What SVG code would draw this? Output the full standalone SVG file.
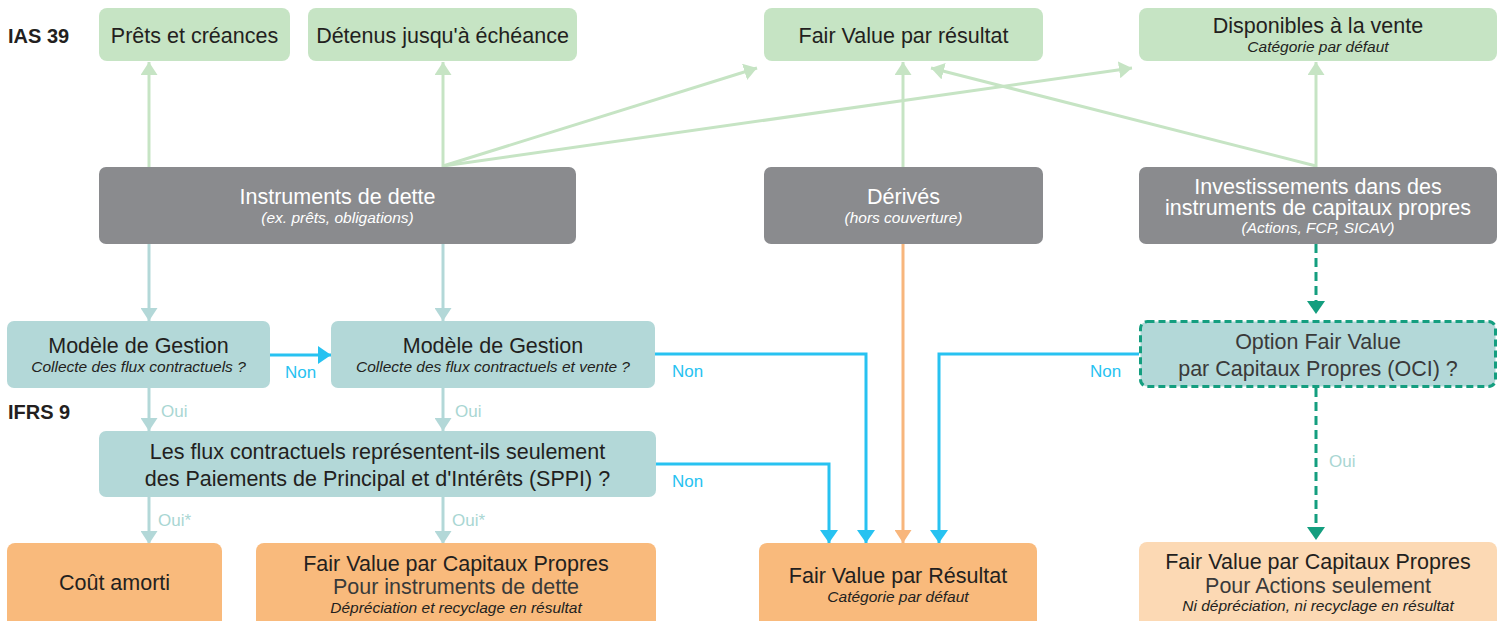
<svg xmlns="http://www.w3.org/2000/svg" width="1502" height="621" viewBox="0 0 1502 621">
<style>
text{font-family:"Liberation Sans",Arial,sans-serif;fill:#231f20}
.t{font-size:21.5px;text-anchor:middle}
.s{font-size:15.5px;font-style:italic;text-anchor:middle}
.w{fill:#ffffff}
.lbl{font-size:20px;font-weight:bold}
.non{font-size:17px;fill:#27c2f1}
.oui{font-size:17px;fill:#a9d6d3}
.green{fill:#c6e4c4}
.gray{fill:#8a8b8e}
.teal{fill:#b3d8d8}
.orange{fill:#f9ba7c}
.lorange{fill:#fcd9b4}
.cg{fill:none;stroke:#c6e4c4;stroke-width:3}
.ct{fill:none;stroke:#b3d8d8;stroke-width:3}
.cb{fill:none;stroke:#27c2f1;stroke-width:3}
.co{fill:none;stroke:#f8b67c;stroke-width:3}
.cd{fill:none;stroke:#149e7f;stroke-width:3;stroke-dasharray:9 5}
</style>
<defs>
<marker id="mg" markerUnits="userSpaceOnUse" markerWidth="14" markerHeight="17" refX="13" refY="8.5" orient="auto" viewBox="0 0 14 17"><path d="M0,0 L13,8.5 L0,17 z" fill="#c6e4c4"/></marker>
<marker id="mt" markerUnits="userSpaceOnUse" markerWidth="14" markerHeight="17" refX="13" refY="8.5" orient="auto" viewBox="0 0 14 17"><path d="M0,0 L13,8.5 L0,17 z" fill="#b3d8d8"/></marker>
<marker id="mb" markerUnits="userSpaceOnUse" markerWidth="14" markerHeight="18" refX="13" refY="9" orient="auto" viewBox="0 0 14 18"><path d="M0,0 L13,9 L0,18 z" fill="#27c2f1"/></marker>
<marker id="mo" markerUnits="userSpaceOnUse" markerWidth="14" markerHeight="17" refX="13" refY="8.5" orient="auto" viewBox="0 0 14 17"><path d="M0,0 L13,8.5 L0,17 z" fill="#f8b67c"/></marker>
<marker id="md" markerUnits="userSpaceOnUse" markerWidth="14" markerHeight="18" refX="13" refY="9" orient="auto" viewBox="0 0 14 18"><path d="M0,0 L13,9 L0,18 z" fill="#149e7f"/></marker>
</defs>
<rect width="1502" height="621" fill="#ffffff"/>

<g id="labels">
<text class="lbl" x="8" y="43">IAS 39</text>
<text class="lbl" x="8" y="419">IFRS 9</text>
</g>

<g id="connectors">
<path class="cg" d="M149,167 V62" marker-end="url(#mg)"/>
<path class="cg" d="M443,167 V62" marker-end="url(#mg)"/>
<path class="cg" d="M443,166 L757,68" marker-end="url(#mg)"/>
<path class="cg" d="M443,166 L1132,68" marker-end="url(#mg)"/>
<path class="cg" d="M903,167 V62" marker-end="url(#mg)"/>
<path class="cg" d="M1316,167 V62" marker-end="url(#mg)"/>
<path class="cg" d="M1316,166 L931,68" marker-end="url(#mg)"/>
<path class="ct" d="M149,244 V321" marker-end="url(#mt)"/>
<path class="ct" d="M443,244 V321" marker-end="url(#mt)"/>
<path class="ct" d="M149,388 V431" marker-end="url(#mt)"/>
<path class="ct" d="M443,388 V431" marker-end="url(#mt)"/>
<path class="ct" d="M149,497 V544" marker-end="url(#mt)"/>
<path class="ct" d="M443,497 V544" marker-end="url(#mt)"/>
<path class="cb" d="M270,355 H331" marker-end="url(#mb)"/>
<path class="cb" d="M655,354 H866 V543" marker-end="url(#mb)"/>
<path class="cb" d="M656,464 H829 V543" marker-end="url(#mb)"/>
<path class="cb" d="M1139,354 H939 V543" marker-end="url(#mb)"/>
<path class="co" d="M903,244 V543" marker-end="url(#mo)"/>
<path class="cd" d="M1316,244 V314" marker-end="url(#md)"/>
<path class="cd" d="M1316,388 V540" marker-end="url(#md)"/>
<text class="non" x="285" y="378">Non</text>
<text class="non" x="672" y="377">Non</text>
<text class="non" x="672" y="487">Non</text>
<text class="non" x="1090" y="377">Non</text>
<text class="oui" x="161" y="417">Oui</text>
<text class="oui" x="455" y="417">Oui</text>
<text class="oui" x="158" y="526">Oui*</text>
<text class="oui" x="452" y="526">Oui*</text>
<text class="oui" x="1329" y="467">Oui</text>
</g>

<g id="prets">
<rect class="green" x="99" y="8" width="191" height="53" rx="8"/>
<text class="t" x="194.5" y="43">Prêts et créances</text>
</g>
<g id="detenus">
<rect class="green" x="308" y="8" width="269" height="53" rx="8"/>
<text class="t" x="442.5" y="43">Détenus jusqu'à échéance</text>
</g>
<g id="fvpr">
<rect class="green" x="764" y="8" width="279" height="53" rx="8"/>
<text class="t" x="903.5" y="43">Fair Value par résultat</text>
</g>
<g id="disponibles">
<rect class="green" x="1139" y="8" width="358" height="53" rx="8"/>
<text class="t" x="1318" y="33">Disponibles à la vente</text>
<text class="s" x="1318" y="52">Catégorie par défaut</text>
</g>

<g id="instruments">
<rect class="gray" x="99" y="167" width="477" height="77" rx="7"/>
<text class="t w" x="337.5" y="204">Instruments de dette</text>
<text class="s w" x="337.5" y="223">(ex. prêts, obligations)</text>
</g>
<g id="derives">
<rect class="gray" x="764" y="167" width="279" height="77" rx="7"/>
<text class="t w" x="903.5" y="204">Dérivés</text>
<text class="s w" x="903.5" y="223">(hors couverture)</text>
</g>
<g id="investissements">
<rect class="gray" x="1139" y="167" width="358" height="77" rx="7"/>
<text class="t w" x="1318" y="194">Investissements dans des</text>
<text class="t w" x="1318" y="215">instruments de capitaux propres</text>
<text class="s w" x="1318" y="233">(Actions, FCP, SICAV)</text>
</g>

<g id="modele1">
<rect class="teal" x="7" y="321" width="263" height="67" rx="7"/>
<text class="t" x="138.5" y="353">Modèle de Gestion</text>
<text class="s" x="138.5" y="372">Collecte des flux contractuels ?</text>
</g>
<g id="modele2">
<rect class="teal" x="331" y="321" width="324" height="67" rx="7"/>
<text class="t" x="493" y="353">Modèle de Gestion</text>
<text class="s" x="493" y="372">Collecte des flux contractuels et vente ?</text>
</g>
<g id="option">
<rect class="teal" x="1140.5" y="321.5" width="355" height="65" rx="7" stroke="#149e7f" stroke-width="3" stroke-dasharray="7 4"/>
<text class="t" x="1318" y="349" style="fill:#3a3a3a">Option Fair Value</text>
<text class="t" x="1318" y="376" style="fill:#3a3a3a">par Capitaux Propres (OCI) ?</text>
</g>
<g id="sppi">
<rect class="teal" x="99" y="431" width="557" height="66" rx="7"/>
<text class="t" x="377.5" y="459">Les flux contractuels représentent-ils seulement</text>
<text class="t" x="377.5" y="486">des Paiements de Principal et d'Intérêts (SPPI) ?</text>
</g>

<g id="cout">
<rect class="orange" x="7" y="543" width="215" height="90" rx="8"/>
<text class="t" x="114.5" y="590">Coût amorti</text>
</g>
<g id="fvcp-dette">
<rect class="orange" x="256" y="543" width="400" height="90" rx="8"/>
<text class="t" x="456" y="571">Fair Value par Capitaux Propres</text>
<text class="t" x="456" y="594" style="fill:#3a3a3a">Pour instruments de dette</text>
<text class="s" x="456" y="613">Dépréciation et recyclage en résultat</text>
</g>
<g id="fvr">
<rect class="orange" x="759" y="543" width="278" height="90" rx="8"/>
<text class="t" x="898" y="583">Fair Value par Résultat</text>
<text class="s" x="898" y="602">Catégorie par défaut</text>
</g>
<g id="fvcp-actions">
<rect class="lorange" x="1139" y="542" width="358" height="90" rx="8"/>
<text class="t" x="1318" y="569">Fair Value par Capitaux Propres</text>
<text class="t" x="1318" y="593" style="fill:#3a3a3a">Pour Actions seulement</text>
<text class="s" x="1318" y="611">Ni dépréciation, ni recyclage en résultat</text>
</g>
</svg>
